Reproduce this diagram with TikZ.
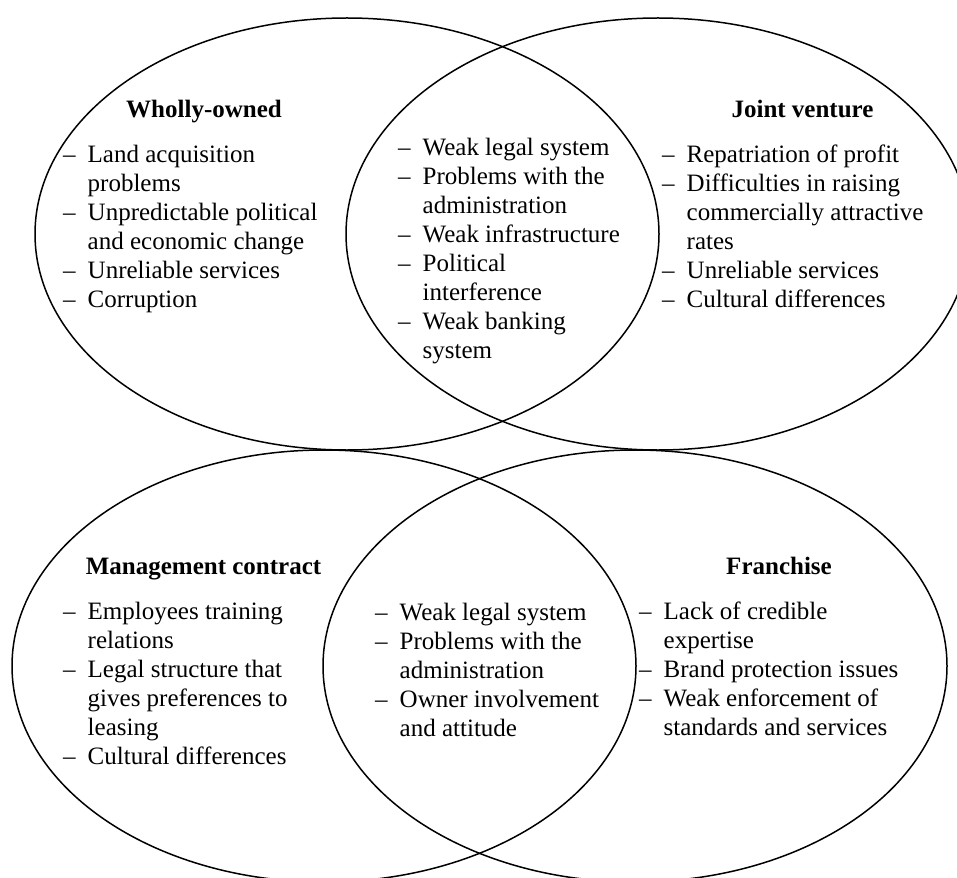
\documentclass[tikz,border=0pt]{standalone}
\usepackage{fontspec}
\setmainfont{Liberation Serif}
\usetikzlibrary{shapes.geometric}
\newcommand{\dsh}{\makebox[24.5pt][l]{–}}
\newcommand{\ind}{\hspace*{24.5pt}}
\begin{document}
\begin{tikzpicture}[x=1pt,y=-1pt,
  venn/.style={draw, ellipse, line width=1.5pt, minimum width=624pt, minimum height=432pt, inner sep=0pt},
  ttl/.style={anchor=base, inner sep=0pt, font=\fontsize{25}{29}\selectfont\bfseries},
  lst/.style={anchor=base west, inner sep=0pt, font=\fontsize{25}{29}\selectfont}]
\useasboundingbox (0,0) rectangle (957,877);
\begin{scope}
\clip (0,0) rectangle (957,877);
\node[venn] (wo) at (347,234) {};
\node[venn] (jv) at (658,234) {};
\node[venn] (mc) at (324,666) {};
\node[venn] (fr) at (635,666) {};
\end{scope}
% titles
\node[ttl] (wot) at (204,118) {Wholly-owned};
\node[ttl] (jvt) at (802.5,118) {Joint venture};
\node[ttl] (mct) at (203.5,574) {Management contract};
\node[ttl] (frt) at (779,574) {Franchise};
% lists
\node[lst] (wol) at (63,163) {\begin{tabular}[t]{@{}l@{}}\dsh Land acquisition\\ \ind problems\\ \dsh Unpredictable political\\ \ind and economic change\\ \dsh Unreliable services\\ \dsh Corruption\end{tabular}};
\node[lst] (topc) at (398,156) {\begin{tabular}[t]{@{}l@{}}\dsh Weak legal system\\ \dsh Problems with the\\ \ind administration\\ \dsh Weak infrastructure\\ \dsh Political\\ \ind interference\\ \dsh Weak banking\\ \ind system\end{tabular}};
\node[lst] (jvl) at (662,163) {\begin{tabular}[t]{@{}l@{}}\dsh Repatriation of profit\\ \dsh Difficulties in raising\\ \ind commercially attractive\\ \ind rates\\ \dsh Unreliable services\\ \dsh Cultural differences\end{tabular}};
\node[lst] (mcl) at (63,619) {\begin{tabular}[t]{@{}l@{}}\dsh Employees training\\ \ind relations\\ \dsh Legal structure that\\ \ind gives preferences to\\ \ind leasing\\ \dsh Cultural differences\end{tabular}};
\node[lst] (botc) at (375,620) {\begin{tabular}[t]{@{}l@{}}\dsh Weak legal system\\ \dsh Problems with the\\ \ind administration\\ \dsh Owner involvement\\ \ind and attitude\end{tabular}};
\node[lst] (frl) at (639,619) {\begin{tabular}[t]{@{}l@{}}\dsh Lack of credible\\ \ind expertise\\ \dsh Brand protection issues\\ \dsh Weak enforcement of\\ \ind standards and services\end{tabular}};
\end{tikzpicture}
\end{document}
